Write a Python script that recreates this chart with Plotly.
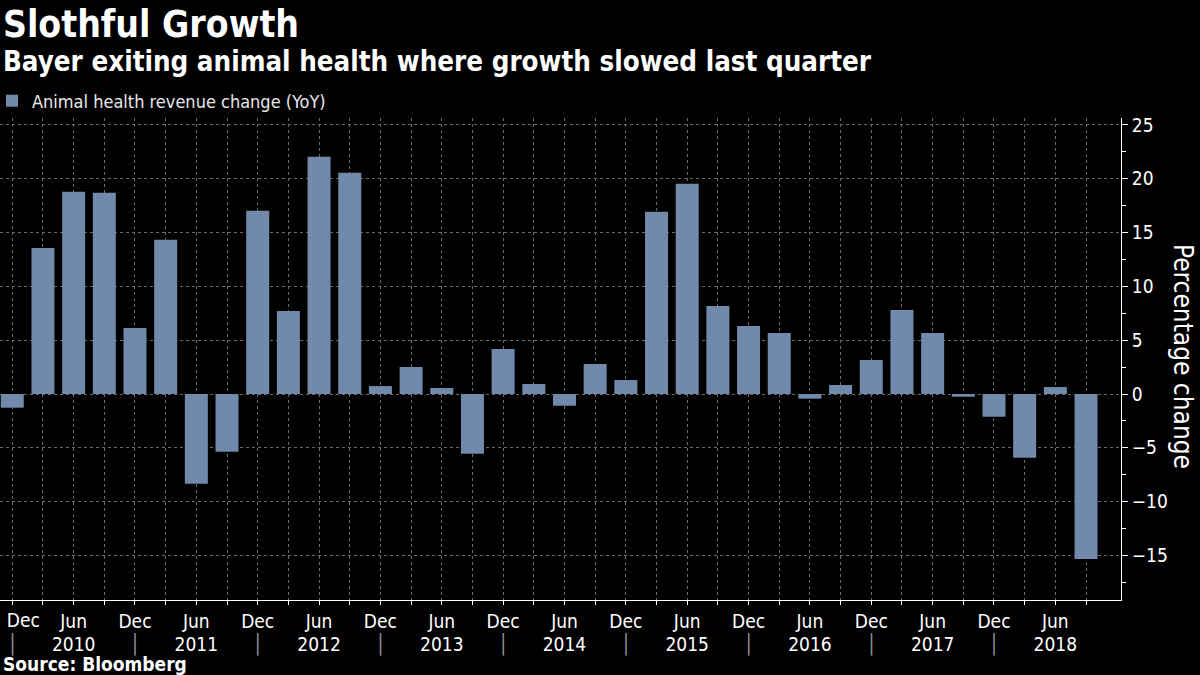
import plotly.graph_objects as go

# ---------------- data ----------------
quarters = ["Dec 2009", "Mar 2010", "Jun 2010", "Sep 2010",
            "Dec 2010", "Mar 2011", "Jun 2011", "Sep 2011",
            "Dec 2011", "Mar 2012", "Jun 2012", "Sep 2012",
            "Dec 2012", "Mar 2013", "Jun 2013", "Sep 2013",
            "Dec 2013", "Mar 2014", "Jun 2014", "Sep 2014",
            "Dec 2014", "Mar 2015", "Jun 2015", "Sep 2015",
            "Dec 2015", "Mar 2016", "Jun 2016", "Sep 2016",
            "Dec 2016", "Mar 2017", "Jun 2017", "Sep 2017",
            "Dec 2017", "Mar 2018", "Jun 2018", "Sep 2018"]
revenue_change = [-1.27, 13.58, 18.79, 18.70, 6.14, 14.33, -8.34, -5.36,
                  17.02, 7.72, 22.05, 20.56, 0.74, 2.51, 0.56, -5.55,
                  4.19, 0.93, -1.09, 2.79, 1.30, 16.93, 19.53, 8.19,
                  6.33, 5.67, -0.43, 0.84, 3.16, 7.81, 5.67, -0.25,
                  -2.11, -5.92, 0.65, -15.32]
month_ticks = ["Dec", "Jun"]
year_labels = ["2010", "2011", "2012", "2013", "2014", "2015", "2016", "2017", "2018"]
y_ticks = [-15, -10, -5, 0, 5, 10, 15, 20, 25]

series_name = "Animal health revenue change (YoY)"
title = "Slothful Growth"
subtitle = "Bayer exiting animal health where growth slowed last quarter"
source = "Source: Bloomberg"
y_title = "Percentage change"

# ---------------- style ----------------
W, H = 1200, 675
M_L, M_R, M_T, M_B = 0, 79, 118, 75
PLOT_H = H - M_T - M_B
PLOT_W = W - M_L - M_R
BAR_COLOR = "#7189AA"
GRID = "#6a6a6a"
FONT = "DejaVu Sans Condensed, DejaVu Sans, sans-serif"


def py(px):
    """pixel row -> paper y"""
    return (H - M_B - px) / PLOT_H


def px_(x):
    """pixel column -> paper x"""
    return (x - M_L) / PLOT_W


# month tick labels (bottom row 1); the first label goes on its own shifted axis
tick_text = []
for i, q in enumerate(quarters):
    m = q.split()[0]
    lab = m if m in month_ticks else ""
    tick_text.append("" if i == 0 else lab)
first_val = [quarters[0]]
first_text = [quarters[0].split()[0]]

# year row (bottom row 2): separators at Dec, year at Jun
year_vals, year_text = [], []
yi = 0
for q in quarters:
    m = q.split()[0]
    if m == "Dec":
        year_vals.append(q)
        year_text.append('<span style="color:#9a9a9a">\u2502</span>')
    elif m == "Jun":
        year_vals.append(q)
        year_text.append(year_labels[yi])
        yi += 1

fig = go.Figure()
fig.add_trace(go.Bar(x=quarters, y=revenue_change, name=series_name,
                     marker=dict(color=BAR_COLOR, line=dict(width=0)),
                     showlegend=True))

# invisible traces to carry the extra label axes
for ax in ["x2", "x3"]:
    fig.add_trace(go.Scatter(x=[quarters[0]], y=[0], xaxis=ax, mode="markers",
                             marker=dict(opacity=0), showlegend=False, hoverinfo="skip"))

common_x = dict(type="category", categoryorder="array", categoryarray=quarters)

fig.update_layout(
    width=W, height=H,
    margin=dict(l=M_L, r=M_R, t=M_T, b=M_B, autoexpand=False),
    paper_bgcolor="black", plot_bgcolor="black",
    font=dict(family=FONT, color="white", size=19),
    bargap=0.25,
    showlegend=True,
    legend=dict(x=px_(-8), y=py(101), xanchor="left", yanchor="middle",
                font=dict(size=18, color="#e8e8e8"), bgcolor="rgba(0,0,0,0)",
                itemclick=False),
    xaxis=dict(
        **common_x,
        range=[-0.40, 36.14],
        tickmode="array", tickvals=quarters, ticktext=tick_text,
        ticks="outside", ticklen=4, tickcolor="white",
        showline=True, linecolor="white", linewidth=1,
        showgrid=True, gridcolor=GRID, griddash="3px,3px", gridwidth=1,
        tickfont=dict(size=19, color="white"),
        zeroline=False,
    ),
    xaxis2=dict(
        **common_x,
        overlaying="x", matches="x", anchor="y", side="bottom",
        tickmode="array", tickvals=year_vals, ticktext=year_text,
        ticks="", showline=False, showgrid=False, zeroline=False,
        ticklabelstandoff=31,
        tickfont=dict(size=19, color="white"),
    ),
    xaxis3=dict(
        **common_x,
        overlaying="x", matches="x", anchor="y", side="bottom",
        tickmode="array", tickvals=first_val, ticktext=first_text,
        ticks="", showline=False, showgrid=False, zeroline=False,
        ticklabelshift=11, ticklabelstandoff=7,
        tickfont=dict(size=19, color="white"),
    ),
    yaxis=dict(
        side="right", range=[-19.14, 25.65],
        tickmode="array", tickvals=y_ticks,
        ticks="outside", ticklen=6, tickcolor="white",
        minor=dict(dtick=2.5, ticks="outside", ticklen=4, tickcolor="white", showgrid=False),
        showline=True, linecolor="white", linewidth=1,
        showgrid=True, gridcolor=GRID, griddash="3px,3px", gridwidth=1,
        zeroline=False,
        tickfont=dict(size=19, color="white"),
    ),
    annotations=[
        dict(text=f"<b>{title}</b>", x=px_(1), y=py(24), xref="paper", yref="paper",
             xanchor="left", yanchor="middle", showarrow=False,
             font=dict(size=37, color="white")),
        dict(text=f"<b>{subtitle}</b>", x=px_(1), y=py(61), xref="paper", yref="paper",
             xanchor="left", yanchor="middle", showarrow=False,
             font=dict(size=27.5, color="white")),
        dict(text=f"<b>{source}</b>", x=px_(1), y=py(664), xref="paper", yref="paper",
             xanchor="left", yanchor="middle", showarrow=False,
             font=dict(size=19, color="white")),
        dict(text=y_title, x=px_(1183), y=py(356),
             xref="paper", yref="paper", xanchor="center", yanchor="middle",
             textangle=90, showarrow=False, font=dict(size=26, color="white")),
    ],
)

fig.write_html("out.html", config={"displayModeBar": False},
               post_script="document.body.style.margin='0';document.body.style.background='black';")
